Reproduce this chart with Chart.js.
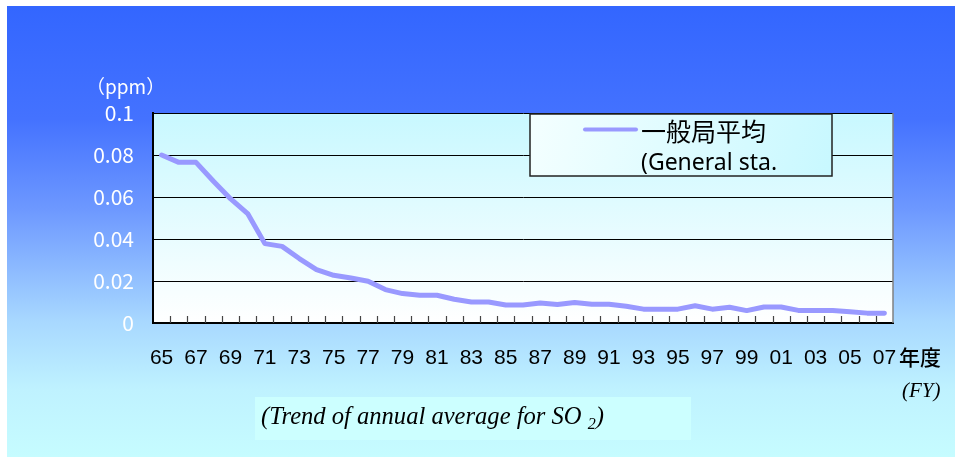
<!DOCTYPE html>
<html>
<head>
<meta charset="utf-8">
<script src="https://cdn.jsdelivr.net/npm/chart.js@4.4.1/dist/chart.umd.min.js"></script>
<style>
  html, body { margin: 0; padding: 0; background: #fff; }
  body { width: 955px; height: 461px; position: relative; overflow: hidden; }
  #bg {
    position: absolute; left: 7px; top: 6px; right: 0; bottom: 4px;
    background: linear-gradient(to bottom, #3366ff 0%, #4472ff 25%, #6d98ff 45%, #a8d8ff 70%, #bff2ff 85%, #c6fcff 100%);
  }
  #chart { position: absolute; left: 0; top: 0; }
  .txt { position: absolute; white-space: nowrap; }
  #ppm { left: 86px; top: 72px; color: #fff; font: 19px "Noto Sans CJK JP", sans-serif; }
  #nendo { left: 899px; top: 341px; color: #000; font: 500 21px "Noto Sans CJK JP", sans-serif; }
  #fy { left: 902px; top: 378px; color: #000; font: italic 21px "Liberation Serif", serif; }
  #capbox { position: absolute; left: 255px; top: 397px; width: 436px; height: 43px; background: #ccffff; }
  #caption { left: 261px; top: 401px; color: #000; font: italic 26px "Liberation Serif", serif;
             transform: scaleX(0.945); transform-origin: left top; }
  #caption span { font-size: 17px; position: relative; top: 5px; }
</style>
</head>
<body>
<div id="bg"></div>
<div id="capbox"></div>
<canvas id="chart" width="955" height="461"></canvas>
<div class="txt" id="ppm">（ppm）</div>
<div class="txt" id="nendo">年度</div>
<div class="txt" id="fy">(FY)</div>
<div class="txt" id="caption">(Trend of annual average for SO <span>2</span>)</div>
<script>
const years = ['65','66','67','68','69','70','71','72','73','74','75','76','77','78','79',
               '80','81','82','83','84','85','86','87','88','89','90','91','92','93','94',
               '95','96','97','98','99','00','01','02','03','04','05','06','07'];
const so2General = [0.080, 0.0765, 0.0765, 0.0676, 0.0592, 0.0521, 0.0378, 0.0365, 0.0307, 0.0254,
                    0.0227, 0.0214, 0.0199, 0.0159, 0.0140, 0.0132, 0.0132, 0.0113, 0.0100, 0.0100,
                    0.0086, 0.0086, 0.0095, 0.0088, 0.0098, 0.0089, 0.0089, 0.0080, 0.0066, 0.0066,
                    0.0066, 0.0082, 0.0066, 0.0075, 0.0059, 0.0076, 0.0076, 0.0060, 0.0060, 0.0060,
                    0.0054, 0.0047, 0.0046];
const seriesLabel = ['一般局平均', '(General sta.'];
const yTicks = [0, 0.02, 0.04, 0.06, 0.08, 0.1];

// plot area fill + grey right border
const plotBackground = {
    id: 'plotBackground',
    beforeDraw(chart) {
        const { ctx, chartArea: a } = chart;
        const g = ctx.createLinearGradient(0, a.top, 0, a.bottom);
        g.addColorStop(0, '#c8f8ff');
        g.addColorStop(1, '#ffffff');
        ctx.save();
        ctx.fillStyle = g;
        ctx.fillRect(a.left, a.top, a.right - a.left, a.bottom - a.top);
        ctx.restore();
    },
    afterDraw(chart) {
        const { ctx, chartArea: a } = chart;
        ctx.save();
        ctx.strokeStyle = '#808080';
        ctx.lineWidth = 1.5;
        ctx.beginPath();
        ctx.moveTo(a.right, a.top);
        ctx.lineTo(a.right, a.bottom);
        ctx.stroke();
        ctx.restore();
    }
};

// small inner tick marks between categories
const innerTicks = {
    id: 'innerTicks',
    afterDraw(chart) {
        const { ctx, chartArea: a } = chart;
        const x = chart.scales.x;
        ctx.save();
        ctx.strokeStyle = '#444';
        ctx.lineWidth = 1.2;
        ctx.beginPath();
        for (let i = 0; i < years.length - 1; i++) {
            const px = Math.round((x.getPixelForValue(i) + x.getPixelForValue(i + 1)) / 2) + 0.5;
            ctx.moveTo(px, a.bottom);
            ctx.lineTo(px, a.bottom - 7);
        }
        ctx.stroke();
        ctx.restore();
    }
};

// boxed legend like the original
const boxLegend = {
    id: 'boxLegend',
    afterDatasetsDraw(chart) {
        const { ctx } = chart;
        const ds = chart.data.datasets[0];
        const bx = 530, by = 114, bw = 302, bh = 62;
        ctx.save();
        const g = ctx.createLinearGradient(bx, by, bx + bw, by + bh);
        g.addColorStop(0, '#f4ffff');
        g.addColorStop(1, '#c8f8ff');
        ctx.fillStyle = g;
        ctx.fillRect(bx, by, bw, bh);
        ctx.strokeStyle = '#222';
        ctx.lineWidth = 1.5;
        ctx.strokeRect(bx, by, bw, bh);
        ctx.strokeStyle = ds.borderColor;
        ctx.lineWidth = 4;
        ctx.lineCap = 'round';
        ctx.beginPath();
        ctx.moveTo(585, 129.5);
        ctx.lineTo(636, 129.5);
        ctx.stroke();
        ctx.fillStyle = '#000';
        ctx.textBaseline = 'middle';
        ctx.font = '25px "Noto Sans CJK JP", sans-serif';
        ctx.fillText(ds.label[0], 641, 131);
        ctx.font = '23px "Noto Sans", sans-serif';
        ctx.fillText(ds.label[1], 641, 163);
        ctx.restore();
    }
};

new Chart(document.getElementById('chart').getContext('2d'), {
    type: 'line',
    data: {
        labels: years,
        datasets: [{
            label: seriesLabel,
            data: so2General,
            borderColor: '#9999ff',
            backgroundColor: '#9999ff',
            borderWidth: 5,
            borderCapStyle: 'round',
            borderJoinStyle: 'round',
            pointRadius: 0,
            tension: 0
        }]
    },
    options: {
        responsive: false,
        animation: false,
        layout: { padding: { left: 0, top: 113, right: 62, bottom: 0 } },
        plugins: { legend: { display: false }, tooltip: { enabled: false } },
        scales: {
            x: {
                type: 'category',
                offset: true,
                grid: { display: false, drawTicks: false },
                border: { color: '#000', width: 2 },
                ticks: {
                    autoSkip: false,
                    maxRotation: 0,
                    padding: 23,
                    color: '#000',
                    font: { family: '"Liberation Sans Narrow", "Arial Narrow", sans-serif', size: 21 },
                    callback: (v, i) => (i % 2 === 0 ? years[i] : '')
                },
                afterFit(scale) { scale.height = 138; }
            },
            y: {
                min: 0,
                max: 0.1,
                afterBuildTicks(scale) { scale.ticks = yTicks.map(v => ({ value: v })); },
                grid: { color: '#000', lineWidth: 1, drawTicks: false },
                border: { color: '#000', width: 2 },
                ticks: {
                    padding: 19,
                    color: '#fff',
                    font: { family: '"Noto Sans CJK JP", sans-serif', size: 21 },
                    callback: v => String(+v.toFixed(2))
                },
                afterFit(scale) { scale.width = 153; }
            }
        }
    },
    plugins: [plotBackground, innerTicks, boxLegend]
});
</script>
</body>
</html>
